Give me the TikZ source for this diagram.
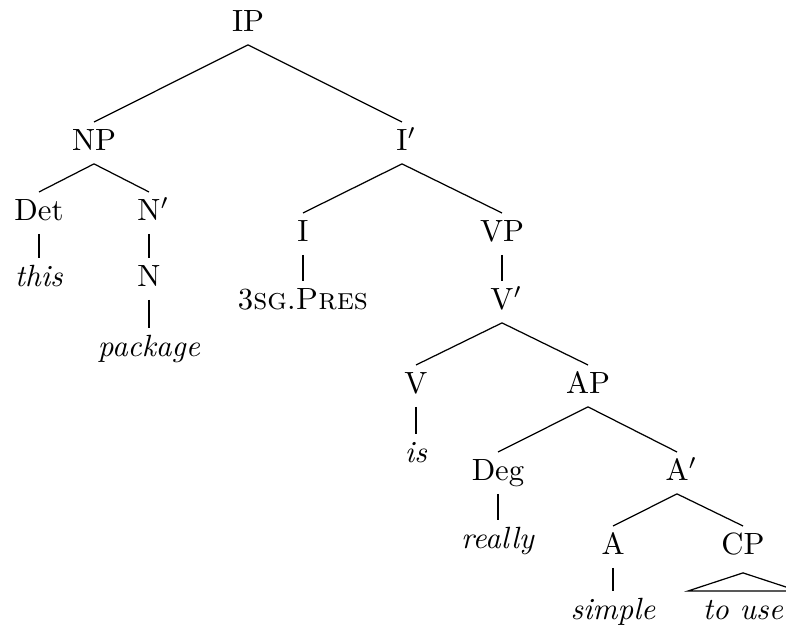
\documentclass[tikz,border=0pt]{standalone}
\usetikzlibrary{calc}
\begin{document}
\begin{tikzpicture}[x=0.3257pt,y=-0.3257pt,
  lbl/.style={anchor=base,inner xsep=0pt,inner ysep=2.2pt,text height=7.25pt,text depth=2pt,outer sep=0pt},
  branch/.style={line width=0.4pt}]
\useasboundingbox (0,0) rectangle (786,628);
\clip (0,0) rectangle (786,628);
% nodes
\node[lbl] (IP)    at (248,32)  {IP};
\node[lbl] (NP)    at (94,151)  {NP};
\node[lbl] (Ib)    at (402,151) {I\rlap{$'$}};
\node[lbl] (Det)   at (39,221)  {Det};
\node[lbl] (Nb)    at (149,221) {N\rlap{$'$}};
\node[lbl] (this)  at (39,287)  {\textit{this}};
\node[lbl] (N)     at (149,287) {N};
\node[lbl] (pkg)   at (149,357) {\textit{package}};
\node[lbl] (I)     at (303,242) {I};
\node[lbl] (VP)    at (502,242) {VP};
\node[lbl] (pres)  at (303,310) {3\textsc{sg}.\textsc{Pres}};
\node[lbl] (Vb)    at (502,310) {V\rlap{$'$}};
\node[lbl] (V)     at (416,394) {V};
\node[lbl] (AP)    at (588,394) {AP};
\node[lbl] (is)    at (416,463) {\textit{is}};
\node[lbl] (Deg)   at (498,481) {Deg};
\node[lbl] (Ab)    at (677,481) {A\rlap{$'$}};
\node[lbl] (really) at (498,549) {\textit{really}};
\node[lbl] (A)     at (613,555) {A};
\node[lbl] (CP)    at (743,555) {CP};
\node[lbl] (simple) at (613,620) {\textit{simple}};
\node[lbl] (touse) at (743,620) {\textit{to use}};
% branches
\draw[branch] (IP.south) -- (NP.north);
\draw[branch] (IP.south) -- (Ib.north);
\draw[branch] (NP.south) -- (Det.north);
\draw[branch] (NP.south) -- (Nb.north);
\draw[branch] (Det.south) -- (this.north);
\draw[branch] (Nb.south) -- (N.north);
\draw[branch] (N.south) -- (pkg.north);
\draw[branch] (Ib.south) -- (I.north);
\draw[branch] (Ib.south) -- (VP.north);
\draw[branch] (I.south) -- (pres.north);
\draw[branch] (VP.south) -- (Vb.north);
\draw[branch] (Vb.south) -- (V.north);
\draw[branch] (Vb.south) -- (AP.north);
\draw[branch] (V.south) -- (is.north);
\draw[branch] (AP.south) -- (Deg.north);
\draw[branch] (AP.south) -- (Ab.north);
\draw[branch] (Deg.south) -- (really.north);
\draw[branch] (Ab.south) -- (A.north);
\draw[branch] (Ab.south) -- (CP.north);
\draw[branch] (A.south) -- (simple.north);
% roof
\coordinate (apex) at ($(CP.south)+(0,5)$);
\draw[branch] (apex) -- ($(touse.north)+(-55,0)$) -- ($(touse.north)+(55,0)$) -- cycle;
\end{tikzpicture}
\end{document}
